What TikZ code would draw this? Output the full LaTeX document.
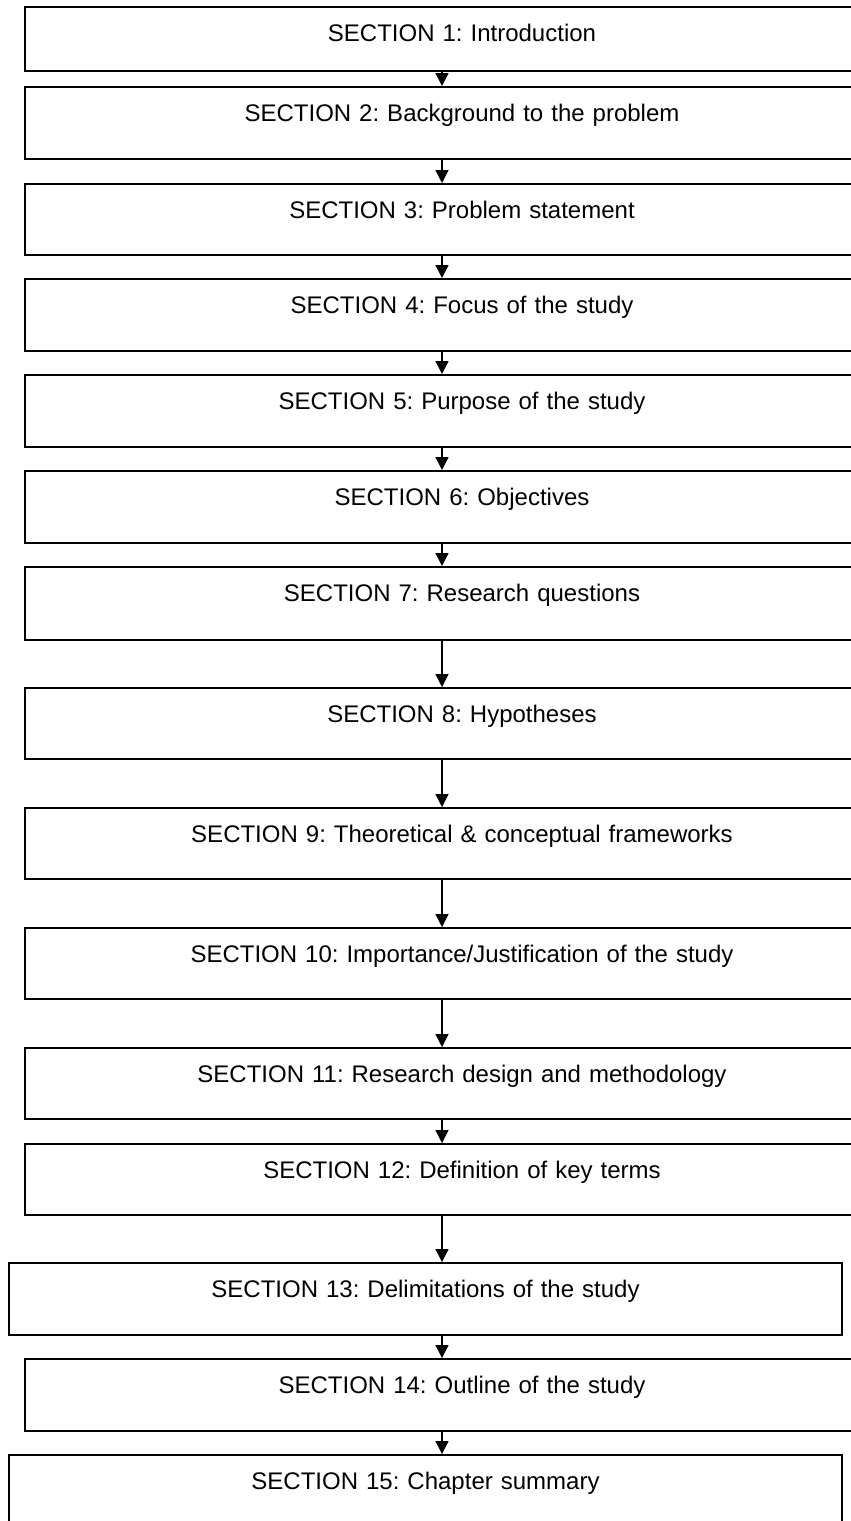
\documentclass[tikz,border=0pt]{standalone}
\usepackage{fontspec}
\setmainfont{Liberation Sans}
\usetikzlibrary{arrows.meta}
\frenchspacing

\tikzset{
  secbox/.style={draw=black, line width=1.5pt, rectangle, inner sep=0pt, anchor=north,
    align=center, font=\fontsize{24}{29}\selectfont, text height=35pt},
  wide/.style={secbox, text width=874pt},
  narrow/.style={secbox, text width=833pt},
  arr/.style={line width=1.3pt, -{Triangle[width=13pt,length=13pt]}}
}

\begin{document}
\begin{tikzpicture}[x=1pt,y=-1pt]
\useasboundingbox (0,0) rectangle (851,1521);
\clip (0,0) rectangle (851,1521);

% vertical axis of the connectors
\coordinate (ax) at (442,0);

% section boxes: top edge y, height = text height + text depth
\node[wide, text depth=29pt] (b1) at (462,6) {SECTION 1: Introduction};
\node[wide, text depth=37pt] (b2) at (462,86) {SECTION 2: Background to the problem};
\node[wide, text depth=36pt] (b3) at (462,183) {SECTION 3: Problem statement};
\node[wide, text depth=37pt] (b4) at (462,278) {SECTION 4: Focus of the study};
\node[wide, text depth=37pt] (b5) at (462,374) {SECTION 5: Purpose of the study};
\node[wide, text depth=37pt] (b6) at (462,470) {SECTION 6: Objectives};
\node[wide, text depth=38pt] (b7) at (462,566) {SECTION 7: Research questions};
\node[wide, text depth=36pt] (b8) at (462,687) {SECTION 8: Hypotheses};
\node[wide, text depth=36pt] (b9) at (462,807) {SECTION 9: Theoretical \& conceptual frameworks};
\node[wide, text depth=36pt] (b10) at (462,927) {SECTION 10: Importance/Justification of the study};
\node[wide, text depth=36pt] (b11) at (462,1047) {SECTION 11: Research design and methodology};
\node[wide, text depth=36pt] (b12) at (462,1143) {SECTION 12: Definition of key terms};
\node[narrow, text depth=37pt] (b13) at (425.5,1262) {SECTION 13: Delimitations of the study};
\node[wide, text depth=37pt] (b14) at (462,1358) {SECTION 14: Outline of the study};
\node[narrow, text depth=37pt] (b15) at (425.5,1454) {SECTION 15: Chapter summary};

% connectors
\foreach \a/\b in {b1/b2,b2/b3,b3/b4,b4/b5,b5/b6,b6/b7,b7/b8,b8/b9,b9/b10,
                   b10/b11,b11/b12,b12/b13,b13/b14,b14/b15}
  \draw[arr] (\a.south -| ax) -- (\b.north -| ax);
\end{tikzpicture}
\end{document}
